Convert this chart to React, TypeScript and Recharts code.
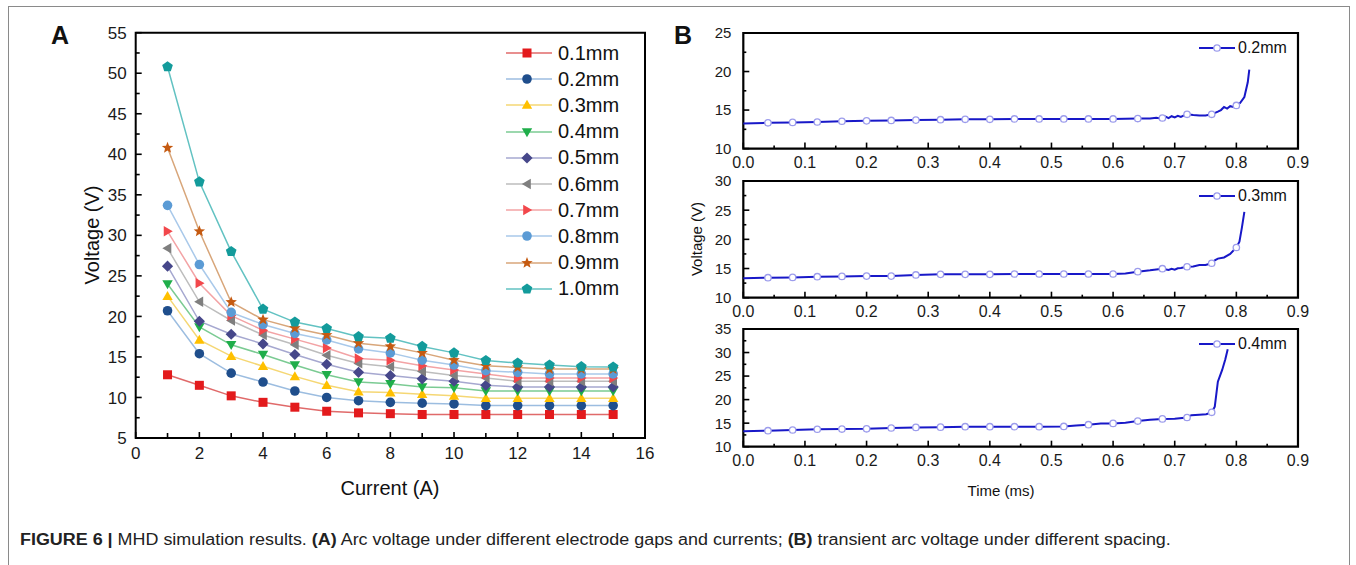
import React from "react";
import { LineChart, Line, XAxis, YAxis, ReferenceArea, Legend } from "recharts";

// ---- Panel A: arc voltage vs current for each electrode gap ----
const currents = [1, 2, 3, 4, 5, 6, 7, 8, 9, 10, 11, 12, 13, 14, 15];
const gap01 = [12.8, 11.5, 10.2, 9.4, 8.8, 8.3, 8.1, 8.0, 7.9, 7.9, 7.9, 7.9, 7.9, 7.9, 7.9];
const gap02 = [20.7, 15.4, 13.0, 11.9, 10.8, 10.0, 9.6, 9.4, 9.3, 9.2, 9.0, 9.0, 9.0, 9.0, 9.0];
const gap03 = [22.5, 17.1, 15.1, 13.85, 12.6, 11.5, 10.7, 10.6, 10.4, 10.2, 9.9, 9.9, 9.9, 9.9, 9.9];
const gap04 = [24.0, 18.7, 16.5, 15.3, 14.0, 12.8, 11.9, 11.7, 11.3, 11.2, 10.8, 10.8, 10.8, 10.8, 10.8];
const gap05 = [26.2, 19.4, 17.8, 16.6, 15.3, 14.1, 13.1, 12.7, 12.3, 12.0, 11.5, 11.3, 11.3, 11.3, 11.3];
const gap06 = [28.4, 21.8, 19.5, 17.7, 16.5, 15.2, 14.2, 13.8, 13.2, 12.7, 12.4, 12.0, 12.0, 12.0, 12.0];
const gap07 = [30.5, 24.1, 20.1, 18.3, 17.2, 16.1, 14.8, 14.6, 13.9, 13.4, 12.9, 12.4, 12.4, 12.4, 12.4];
const gap08 = [33.7, 26.4, 20.5, 19.0, 17.9, 17.1, 16.0, 15.5, 14.6, 14.0, 13.3, 13.1, 12.9, 12.9, 12.9];
const gap09 = [40.8, 30.5, 21.75, 19.6, 18.55, 17.7, 16.7, 16.3, 15.5, 14.6, 13.9, 13.7, 13.5, 13.5, 13.5];
const gap10 = [50.8, 36.6, 28.0, 20.9, 19.3, 18.5, 17.5, 17.3, 16.3, 15.5, 14.55, 14.25, 14.0, 13.8, 13.75];

const gapNames = ["0.1mm", "0.2mm", "0.3mm", "0.4mm", "0.5mm", "0.6mm", "0.7mm", "0.8mm", "0.9mm", "1.0mm"];
const gapValues = [gap01, gap02, gap03, gap04, gap05, gap06, gap07, gap08, gap09, gap10];

const currentTicks = [0, 1, 2, 3, 4, 5, 6, 7, 8, 9, 10, 11, 12, 13, 14, 15, 16];
const voltTicksA = [5, 7.5, 10, 12.5, 15, 17.5, 20, 22.5, 25, 27.5, 30, 32.5, 35, 37.5, 40, 42.5, 45, 47.5, 50, 52.5, 55];

// ---- Panel B: transient arc voltage ----
const timeTicks = [0, 0.05, 0.1, 0.15, 0.2, 0.25, 0.3, 0.35, 0.4, 0.45, 0.5, 0.55, 0.6, 0.65, 0.7, 0.75, 0.8, 0.85, 0.9];

const time02 = [0, 0.04, 0.08, 0.12, 0.16, 0.2, 0.24, 0.28, 0.32, 0.36, 0.4, 0.44, 0.48, 0.52, 0.56, 0.6, 0.64, 0.66, 0.67, 0.675, 0.68, 0.685, 0.69, 0.695, 0.7, 0.705, 0.71, 0.715, 0.72, 0.73, 0.74, 0.75, 0.76, 0.77, 0.775, 0.78, 0.785, 0.79, 0.795, 0.8, 0.806, 0.813, 0.8185, 0.821];
const volt02 = [13.25, 13.35, 13.4, 13.45, 13.55, 13.6, 13.65, 13.7, 13.75, 13.8, 13.8, 13.85, 13.85, 13.85, 13.85, 13.85, 13.9, 13.9, 14.0, 13.95, 13.97, 14.15, 13.95, 14.2, 14.05, 14.25, 14.1, 14.3, 14.45, 14.35, 14.3, 14.3, 14.45, 14.8, 15.0, 15.4, 15.2, 15.5, 15.4, 15.6, 15.9, 16.7, 18.6, 20.25];

const time03 = [0, 0.04, 0.08, 0.12, 0.16, 0.2, 0.24, 0.28, 0.32, 0.36, 0.4, 0.44, 0.48, 0.52, 0.56, 0.6, 0.62, 0.64, 0.66, 0.67, 0.68, 0.69, 0.695, 0.7, 0.705, 0.71, 0.72, 0.73, 0.74, 0.75, 0.76, 0.765, 0.77, 0.78, 0.79, 0.8, 0.805, 0.809, 0.813];
const volt03 = [13.32, 13.43, 13.48, 13.6, 13.65, 13.7, 13.7, 13.9, 14.0, 14.0, 14.0, 14.06, 14.06, 14.06, 14.06, 14.06, 14.15, 14.46, 14.7, 14.85, 14.97, 14.75, 14.95, 14.8, 15.05, 15.1, 15.3, 15.35, 15.6, 15.6, 15.9, 16.4, 16.7, 16.9, 17.5, 18.6, 19.6, 22.0, 24.7];

const time04 = [0, 0.04, 0.08, 0.12, 0.16, 0.2, 0.24, 0.28, 0.32, 0.36, 0.4, 0.44, 0.48, 0.52, 0.54, 0.56, 0.58, 0.6, 0.62, 0.64, 0.66, 0.68, 0.7, 0.72, 0.727, 0.74, 0.751, 0.76, 0.765, 0.77, 0.777, 0.782, 0.786];
const volt04 = [13.27, 13.4, 13.55, 13.7, 13.75, 13.8, 13.97, 14.1, 14.15, 14.25, 14.25, 14.25, 14.25, 14.3, 14.5, 14.67, 14.9, 14.95, 15.1, 15.45, 15.7, 15.9, 15.95, 16.2, 16.7, 16.8, 16.9, 17.3, 18.5, 23.8, 26.3, 28.5, 30.7];

const FONT = "'Liberation Sans', Arial, sans-serif";

type Shape = "square" | "circle" | "up" | "down" | "diamond" | "left" | "right" | "star" | "pentagon";

const seriesStyle: { shape: Shape; marker: string; line: string }[] = [
  { shape: "square", marker: "#e31a1c", line: "#e06a6a" },
  { shape: "circle", marker: "#1f4e8c", line: "#9cbde0" },
  { shape: "up", marker: "#ffc000", line: "#f5d774" },
  { shape: "down", marker: "#1fae4a", line: "#7bcb93" },
  { shape: "diamond", marker: "#46478a", line: "#a6a8d0" },
  { shape: "left", marker: "#7f7f7f", line: "#bdbdbd" },
  { shape: "right", marker: "#f2474b", line: "#f3a3a5" },
  { shape: "circle", marker: "#5b9bd5", line: "#a9c9ea" },
  { shape: "star", marker: "#c55a11", line: "#d8a67a" },
  { shape: "pentagon", marker: "#139b9b", line: "#62c2c2" },
];

function polyPoints(cx: number, cy: number, n: number, r: number, rot: number, inner?: number) {
  const pts: string[] = [];
  const count = inner ? n * 2 : n;
  for (let i = 0; i < count; i++) {
    const a = rot + (i * 2 * Math.PI) / count;
    const rr = inner && i % 2 === 1 ? inner : r;
    pts.push(`${cx + rr * Math.cos(a)},${cy + rr * Math.sin(a)}`);
  }
  return pts.join(" ");
}

function Marker({ shape, cx, cy, fill }: { shape: Shape; cx: number; cy: number; fill: string }) {
  switch (shape) {
    case "square":
      return <rect x={cx - 4.5} y={cy - 4.5} width={9} height={9} fill={fill} />;
    case "circle":
      return <circle cx={cx} cy={cy} r={4.8} fill={fill} />;
    case "up":
      return <polygon points={polyPoints(cx, cy + 0.8, 3, 6, -Math.PI / 2)} fill={fill} />;
    case "down":
      return <polygon points={polyPoints(cx, cy - 0.8, 3, 6, Math.PI / 2)} fill={fill} />;
    case "diamond":
      return <polygon points={polyPoints(cx, cy, 4, 5.6, 0)} fill={fill} />;
    case "left":
      return <polygon points={polyPoints(cx + 0.8, cy, 3, 6, Math.PI)} fill={fill} />;
    case "right":
      return <polygon points={polyPoints(cx - 0.8, cy, 3, 6, 0)} fill={fill} />;
    case "star":
      return <polygon points={polyPoints(cx, cy, 5, 6, -Math.PI / 2, 2.6)} fill={fill} />;
    case "pentagon":
      return <polygon points={polyPoints(cx, cy, 5, 5.6, -Math.PI / 2)} fill={fill} />;
  }
  return null;
}

const dataA = currents.map((c, i) => {
  const row: Record<string, number> = { current: c };
  gapNames.forEach((n, k) => (row[n] = gapValues[k][i]));
  return row;
});

// inward ticks, labels only on majors
function makeYTick(isMajor: (v: number) => boolean, fontSize: number, gap: number, majorLen: number, minorLen: number) {
  return (props: any) => {
    const { x, y, payload } = props;
    const major = isMajor(payload.value);
    return (
      <g>
        <line x1={x} x2={x + (major ? majorLen : minorLen)} y1={y} y2={y} stroke="#000" strokeWidth={1.6} />
        {major && (
          <text x={x - gap} y={y} dy="0.36em" textAnchor="end" fontSize={fontSize} fontFamily={FONT} fill="#1a1a1a">
            {payload.value}
          </text>
        )}
      </g>
    );
  };
}

function makeXTick(isMajor: (v: number) => boolean, fmt: (v: number) => string, fontSize: number, gap: number, majorLen: number, minorLen: number) {
  return (props: any) => {
    const { x, y, payload } = props;
    const major = isMajor(payload.value);
    return (
      <g>
        <line x1={x} x2={x} y1={y} y2={y - (major ? majorLen : minorLen)} stroke="#000" strokeWidth={1.6} />
        {major && (
          <text x={x} y={y + gap} dy="0.72em" textAnchor="middle" fontSize={fontSize} fontFamily={FONT} fill="#1a1a1a">
            {fmt(payload.value)}
          </text>
        )}
      </g>
    );
  };
}

const aYTick = makeYTick((v) => v % 5 === 0, 17, 9, 6, 4);
const aXTick = makeXTick((v) => v % 2 === 0, (v) => String(v), 17, 9, 6, 5);

const nearTenth = (v: number) => Math.abs(v * 10 - Math.round(v * 10)) < 1e-6;
const bYTick = makeYTick((v) => v % 5 === 0, 15, 12, 6, 3);
const bXTick = makeXTick(nearTenth, (v) => v.toFixed(1), 16, 8, 6, 3);

const AX_W = 40; // y-axis width reserved inside the margins
const AX_H = 20; // x-axis height reserved inside the margins

function LegendA() {
  return (
    <div style={{ fontFamily: FONT }}>
      {gapNames.map((n, k) => (
        <div key={n} style={{ height: 26.2, display: "flex", alignItems: "center" }}>
          <svg width={50} height={20}>
            <line x1={0} x2={46} y1={10} y2={10} stroke={seriesStyle[k].line} strokeWidth={1.6} />
            <Marker shape={seriesStyle[k].shape} cx={21} cy={10} fill={seriesStyle[k].marker} />
          </svg>
          <span style={{ fontSize: 20, color: "#111", marginLeft: 2 }}>{n}</span>
        </div>
      ))}
    </div>
  );
}

function PanelA() {
  return (
    <div style={{ position: "absolute", left: 0, top: 0 }}>
      <LineChart width={670} height={510} data={dataA} margin={{ top: 32.7, left: 135.7 - AX_W, right: 25, bottom: 72 - AX_H }}>
        <XAxis dataKey="current" type="number" domain={[0, 16]} ticks={currentTicks} interval={0} tick={aXTick} tickSize={0} tickMargin={0} axisLine={false} tickLine={false} height={AX_H} />
        <YAxis type="number" domain={[5, 55]} ticks={voltTicksA} interval={0} tick={aYTick} tickSize={0} tickMargin={0} axisLine={false} tickLine={false} width={AX_W} />
        <ReferenceArea x1={0} x2={16} y1={5} y2={55} fill="none" stroke="#000" strokeWidth={2} />
        {gapNames.map((n, k) => (
          <Line
            key={n}
            dataKey={n}
            stroke={seriesStyle[k].line}
            strokeWidth={1.5}
            isAnimationActive={false}
            dot={(p: any) => <Marker key={`${n}-${p.index}`} shape={seriesStyle[k].shape} cx={p.cx} cy={p.cy} fill={seriesStyle[k].marker} />}
          />
        ))}
        <Legend
          layout="horizontal"
          verticalAlign="middle"
          content={() => <LegendA />}
          wrapperStyle={{ position: "absolute", left: 506, top: 40, width: 134 }}
        />
      </LineChart>
    </div>
  );
}

const isMarkerTime = (t: number) => t > 0 && t < 0.805 && Math.abs(t / 0.04 - Math.round(t / 0.04)) < 1e-6;

function TransientPlot({ time, volt, yMax, yTicks, plotTop, plotBottom, name }: {
  time: number[]; volt: number[]; yMax: number; yTicks: number[]; plotTop: number; plotBottom: number; name: string;
}) {
  const data = time.map((t, i) => ({ t, v: volt[i] }));
  const height = plotBottom - plotTop + 58;
  return (
    <div style={{ position: "absolute", left: 680, top: plotTop - 30 }}>
      <LineChart width={640} height={height} data={data} margin={{ top: 30, left: 63.3 - AX_W, right: 22, bottom: 28 - AX_H }}>
        <XAxis dataKey="t" type="number" domain={[0, 0.9]} ticks={timeTicks} interval={0} tick={bXTick} tickSize={0} tickMargin={0} axisLine={false} tickLine={false} height={AX_H} />
        <YAxis type="number" domain={[10, yMax]} ticks={yTicks} interval={0} tick={bYTick} tickSize={0} tickMargin={0} axisLine={false} tickLine={false} width={AX_W} />
        <ReferenceArea x1={0} x2={0.9} y1={10} y2={yMax} fill="none" stroke="#000" strokeWidth={2.2} />
        <Line
          dataKey="v"
          stroke="#1818c8"
          strokeWidth={2}
          isAnimationActive={false}
          dot={(p: any) =>
            isMarkerTime(p.payload.t) ? (
              <circle key={p.index} cx={p.cx} cy={p.cy} r={3.2} fill="#fff" stroke="#9c9cec" strokeWidth={1.3} />
            ) : (
              <g key={p.index} />
            )
          }
        />
        <Legend
          layout="horizontal"
          verticalAlign="middle"
          content={() => (
            <div style={{ display: "flex", alignItems: "center", fontFamily: FONT }}>
              <svg width={38} height={14}>
                <line x1={0} x2={36} y1={7} y2={7} stroke="#1818c8" strokeWidth={2} />
                <circle cx={18} cy={7} r={3.2} fill="#fff" stroke="#9c9cec" strokeWidth={1.3} />
              </svg>
              <span style={{ fontSize: 16, color: "#111", marginLeft: 1 }}>{name}</span>
            </div>
          )}
          wrapperStyle={{ position: "absolute", left: 519, top: 36, width: 110 }}
        />
      </LineChart>
    </div>
  );
}

export default function App() {
  return (
    <div style={{ position: "absolute", left: 0, top: 0, width: 1356, height: 565, overflow: "hidden", background: "#fff", fontFamily: FONT }}>
      <div style={{ position: "absolute", left: 8, top: 6, width: 1340, height: 700, border: "1px solid #8a8a8a" }} />
      <PanelA />
      <TransientPlot time={time02} volt={volt02} yMax={25} yTicks={[10, 12.5, 15, 17.5, 20, 22.5, 25]} plotTop={32.7} plotBottom={148.3} name="0.2mm" />
      <TransientPlot time={time03} volt={volt03} yMax={30} yTicks={[10, 12.5, 15, 17.5, 20, 22.5, 25, 27.5, 30]} plotTop={181} plotBottom={297.7} name="0.3mm" />
      <TransientPlot time={time04} volt={volt04} yMax={35} yTicks={[10, 12.5, 15, 17.5, 20, 22.5, 25, 27.5, 30, 32.5, 35]} plotTop={329} plotBottom={446.7} name="0.4mm" />

      <div style={{ position: "absolute", left: 51, top: 21, fontSize: 25, fontWeight: "bold", color: "#111" }}>A</div>
      <div style={{ position: "absolute", left: 674, top: 21, fontSize: 25, fontWeight: "bold", color: "#111" }}>B</div>

      <div style={{ position: "absolute", left: 92, top: 235, fontSize: 20, color: "#111", transform: "translate(-50%, -50%) rotate(-90deg)", whiteSpace: "nowrap" }}>Voltage (V)</div>
      <div style={{ position: "absolute", left: 390, top: 488, fontSize: 20, color: "#111", transform: "translate(-50%, -50%)", whiteSpace: "nowrap" }}>Current (A)</div>
      <div style={{ position: "absolute", left: 696, top: 239, fontSize: 15, color: "#111", transform: "translate(-50%, -50%) rotate(-90deg)", whiteSpace: "nowrap" }}>Voltage (V)</div>
      <div style={{ position: "absolute", left: 1001, top: 490, fontSize: 15, color: "#111", transform: "translate(-50%, -50%)", whiteSpace: "nowrap" }}>Time (ms)</div>

      <div style={{ position: "absolute", left: 20, top: 531, fontSize: 16, color: "#222", whiteSpace: "nowrap", transform: "scaleX(1.12)", transformOrigin: "left center" }}>
        <b>FIGURE 6 |</b> MHD simulation results. <b>(A)</b> Arc voltage under different electrode gaps and currents; <b>(B)</b> transient arc voltage under different spacing.
      </div>
    </div>
  );
}
